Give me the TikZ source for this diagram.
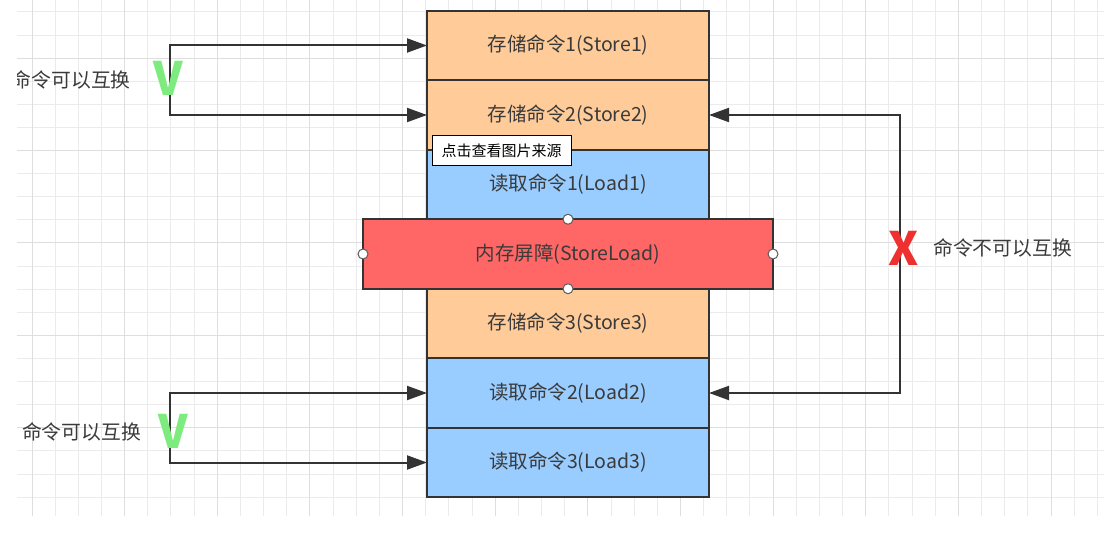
\documentclass[tikz,border=0pt]{standalone}
\usepackage{fontspec}
\newfontfamily\cjk{Noto Sans CJK SC}
\usetikzlibrary{arrows.meta}
\definecolor{storefill}{HTML}{FFCC99}
\definecolor{loadfill}{HTML}{99CCFF}
\definecolor{barfill}{HTML}{FF6666}
\definecolor{edgegray}{HTML}{333333}
\definecolor{textgray}{HTML}{3A3A3A}
\definecolor{okgreen}{HTML}{7DEB7D}
\definecolor{nored}{HTML}{EE3030}
\definecolor{gridminor}{HTML}{EBEBEB}
\definecolor{gridmajor}{HTML}{DEDEDE}
\tikzset{
  cmd/.style={draw=edgegray, line width=2pt, minimum width=282pt, minimum height=69.5pt,
    inner sep=0pt, outer sep=0pt, text=textgray, font=\cjk\fontsize{19.5}{21}\selectfont},
  storecmd/.style={cmd, fill=storefill},
  loadcmd/.style={cmd, fill=loadfill},
  port/.style={circle, draw=edgegray!80, fill=white, line width=1pt, minimum size=10pt, inner sep=0pt},
  swap/.style={draw=edgegray, line width=2pt, {Triangle[length=20pt,width=14pt]}-{Triangle[length=20pt,width=14pt]}},
  note/.style={text=textgray, font=\cjk\fontsize{19.8}{21}\selectfont, inner sep=0pt},
  verdict/.style={inner sep=0pt, font=\cjk\bfseries\fontsize{46}{48}\selectfont}
}
\begin{document}
\begin{tikzpicture}[x=1pt,y=-1pt]
\useasboundingbox (0,0) rectangle (1116,534);
\begin{scope}
\clip (17,0) rectangle (1104,516);
% background grid
\foreach \i in {-1,...,47}
  \draw[gridminor, line width=1pt] ({32+23.16*\i},0) -- ({32+23.16*\i},516);
\foreach \i in {-1,...,22}
  \draw[gridminor, line width=1pt] (0,{12+23.1*\i}) -- (1116,{12+23.1*\i});
\foreach \i in {0,4,...,44}
  \draw[gridmajor, line width=1pt] ({32+23.16*\i},0) -- ({32+23.16*\i},516);
\foreach \i in {-2,2,...,22}
  \draw[gridmajor, line width=1pt] (0,{12+23.1*\i}) -- (1116,{12+23.1*\i});

% command column
\node[storecmd] (s1) at (568,45.5) {存储命令1(Store1)};
\node[storecmd] (s2) at (568,115) {存储命令2(Store2)};
\node[loadcmd] (l1) at (568,184.5) {读取命令1(Load1)};
\node[storecmd] (s3) at (568,323.5) {存储命令3(Store3)};
\node[loadcmd] (l2) at (568,393) {读取命令2(Load2)};
\node[loadcmd] (l3) at (568,462.5) {读取命令3(Load3)};
\node[cmd, fill=barfill, minimum width=410pt] (bar) at (568,254) {内存屏障(StoreLoad)};
\node[port] (bn) at (bar.north) {};
\node[port] (bs) at (bar.south) {};
\node[port] (bw) at (bar.west) {};
\node[port] (be) at (bar.east) {};

% tooltip
\node[draw=black, fill=white, line width=1pt, minimum width=139pt, minimum height=30pt,
  inner sep=0pt, font=\cjk\fontsize{15}{16}\selectfont] (tip) at (501.5,151) {点击查看图片来源};

% swaps
\coordinate (lefttop) at (170,80);
\coordinate (leftbot) at (170,428);
\coordinate (right) at (900,254);
\draw[swap] (s1.west) -| (lefttop) |- (s2.west);
\draw[swap] (l2.west) -| (leftbot) |- (l3.west);
\draw[swap] (s2.east) -| (right) |- (l2.east);

\node[verdict, text=okgreen] (ok1) at (168,78) {V};
\node[verdict, text=okgreen] (ok2) at (173,431) {V};
\node[verdict, text=nored] (no) at (904,248) {X};

\node[note, anchor=east] (n1) at (131,80) {命令可以互换};
\node[note, anchor=east] (n2) at (141,432) {命令可以互换};
\node[note, anchor=west] (n3) at (933,248) {命令不可以互换};
\end{scope}
\end{tikzpicture}
\end{document}
